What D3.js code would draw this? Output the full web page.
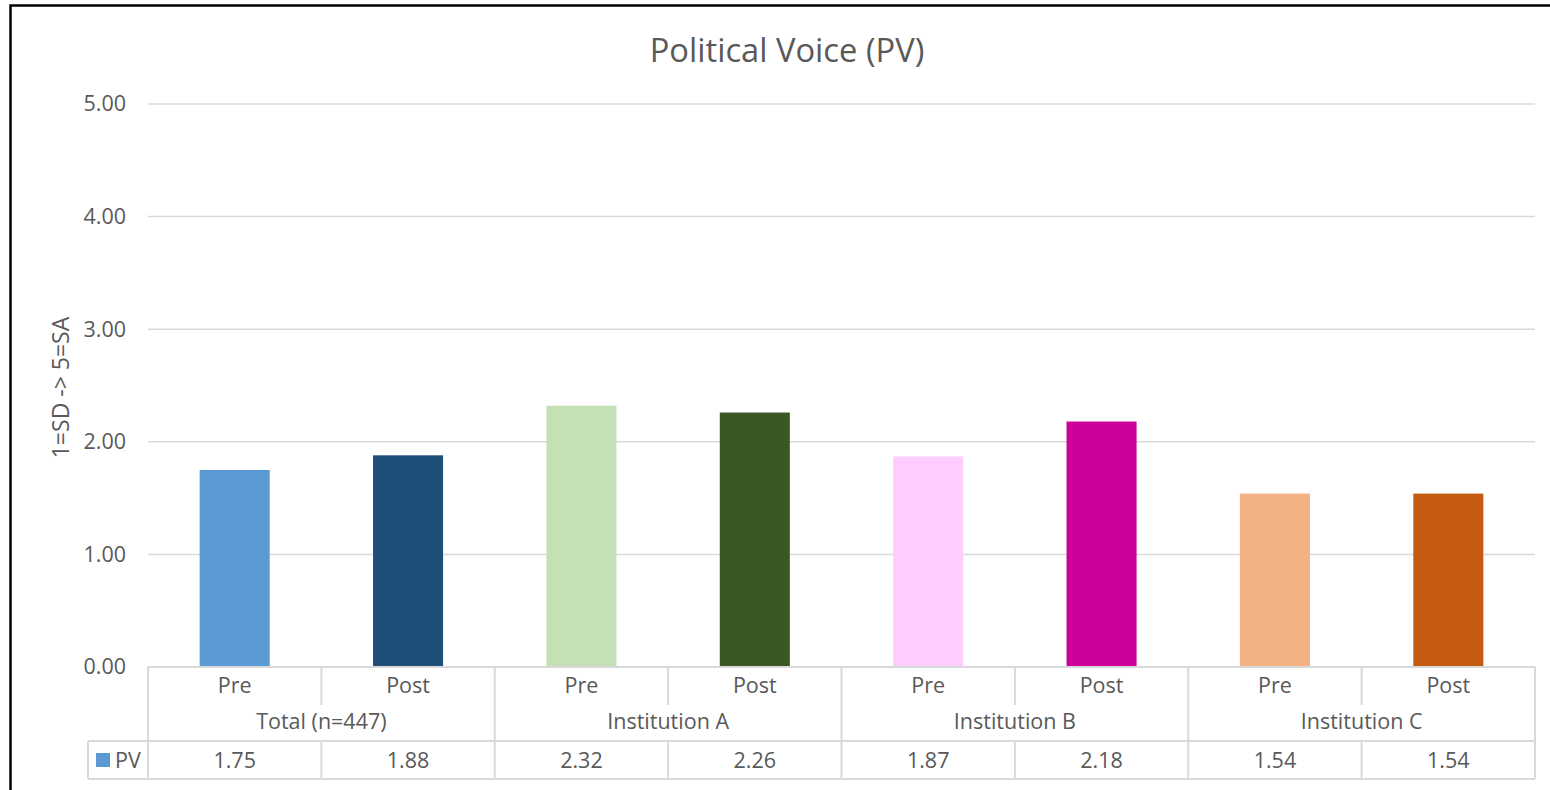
<!DOCTYPE html>
<html>
<head>
<meta charset="utf-8">
<script src="https://cdn.jsdelivr.net/npm/d3@7"></script>
<style>
  html, body { margin: 0; padding: 0; background: #fff; }
  svg { display: block; font-family: "Open Sans", "Noto Sans", sans-serif; }
</style>
</head>
<body>
<svg id="chart" width="1550" height="790"></svg>
<script>
// Survey means for the Political Voice scale, pre and post, by group
const groups = ["Total (n=447)", "Institution A", "Institution B", "Institution C"];
const phases = ["Pre", "Post"];
const pvValues = [1.75, 1.88, 2.32, 2.26, 1.87, 2.18, 1.54, 1.54];
const barColors = ["#5B9BD5", "#1F4E79", "#C5E0B4", "#3A5724", "#FFCCFF", "#CC0099", "#F4B183", "#C55A11"];
const yTicks = [0, 1, 2, 3, 4, 5];
const seriesName = "PV";

const svg = d3.select("#chart");
const textColor = "#595959";
const lineColor = "#d9d9d9";
const labelSize = 21.5;

const plotLeft = 148, plotRight = 1535, plotTop = 104, plotBase = 667;
const rowTop = plotBase, row1 = 705, row2 = 741, row3 = 779, legendLeft = 88;

const cats = d3.range(groups.length * phases.length);
const x = d3.scaleBand().domain(cats).range([plotLeft, plotRight]).padding(0);
const y = d3.scaleLinear().domain([0, 5]).range([plotBase, plotTop]);
const barW = x.bandwidth() * 0.404;

// outer chart frame
svg.append("rect")
  .attr("x", 10.5).attr("y", 5.5).attr("width", 1600).attr("height", 900)
  .attr("fill", "#fff").attr("stroke", "#000").attr("stroke-width", 2.5);

// title
svg.append("text")
  .attr("x", 787).attr("y", 62)
  .attr("text-anchor", "middle")
  .attr("fill", textColor)
  .attr("font-size", 32.7)
  .text("Political Voice (PV)");

// gridlines + y tick labels
const yAxis = d3.axisLeft(y).tickValues(yTicks).tickSize(0).tickFormat(d3.format(".2f"));
const gy = svg.append("g").attr("transform", `translate(${plotLeft},0)`).call(yAxis);
gy.select(".domain").remove();
gy.selectAll("text")
  .attr("x", -22).attr("fill", textColor).attr("font-size", labelSize)
  .attr("font-family", "'Open Sans', 'Noto Sans', sans-serif");

svg.append("g").selectAll("line")
  .data(yTicks.filter(d => d > 0))
  .join("line")
  .attr("x1", plotLeft).attr("x2", plotRight)
  .attr("y1", d => y(d)).attr("y2", d => y(d))
  .attr("stroke", lineColor).attr("stroke-width", 1.5);

// y axis title
svg.append("text")
  .attr("transform", `translate(69,${(plotTop + plotBase) / 2 + 2}) rotate(-90)`)
  .attr("text-anchor", "middle")
  .attr("fill", textColor)
  .attr("font-size", 23)
  .text("1=SD -> 5=SA");

// bars
svg.append("g").selectAll("rect")
  .data(pvValues)
  .join("rect")
  .attr("x", (d, i) => x(i) + (x.bandwidth() - barW) / 2)
  .attr("width", barW)
  .attr("y", d => y(d))
  .attr("height", d => y(0) - y(d))
  .attr("fill", (d, i) => barColors[i]);

// data table grid
const grid = svg.append("g").attr("stroke", lineColor).attr("stroke-width", 2).attr("fill", "none");
const hl = (x1, x2, yy) => grid.append("line").attr("x1", x1).attr("x2", x2).attr("y1", yy).attr("y2", yy);
const vl = (xx, y1, y2) => grid.append("line").attr("x1", xx).attr("x2", xx).attr("y1", y1).attr("y2", y2);

hl(plotLeft, plotRight, rowTop);
hl(legendLeft, plotRight, row2);
hl(legendLeft, plotRight, row3);
vl(legendLeft, row2, row3);
cats.concat([cats.length]).forEach(i => {
  const xx = i < cats.length ? x(i) : plotRight;
  if (i % phases.length === 0) {
    vl(xx, rowTop, row3);
  } else {
    vl(xx, rowTop, row1);
    vl(xx, row2, row3);
  }
});

const labels = svg.append("g").attr("fill", textColor).attr("font-size", labelSize).attr("text-anchor", "middle");

// phase labels
labels.selectAll(".phase")
  .data(cats)
  .join("text")
  .attr("class", "phase")
  .attr("x", i => x(i) + x.bandwidth() / 2)
  .attr("y", 693)
  .text(i => phases[i % phases.length]);

// group labels
labels.selectAll(".grp")
  .data(groups)
  .join("text")
  .attr("class", "grp")
  .attr("x", (g, gi) => x(gi * phases.length) + x.bandwidth())
  .attr("y", 729)
  .text(g => g);

// values row
labels.selectAll(".val")
  .data(pvValues)
  .join("text")
  .attr("class", "val")
  .attr("x", (d, i) => x(i) + x.bandwidth() / 2)
  .attr("y", 768)
  .text(d => d3.format(".2f")(d));

// legend key in the table
svg.append("rect")
  .attr("x", 96).attr("y", 753).attr("width", 14).attr("height", 14)
  .attr("fill", barColors[0]);
svg.append("text")
  .attr("x", 115).attr("y", 768)
  .attr("fill", textColor).attr("font-size", labelSize)
  .text(seriesName);
</script>
</body>
</html>
